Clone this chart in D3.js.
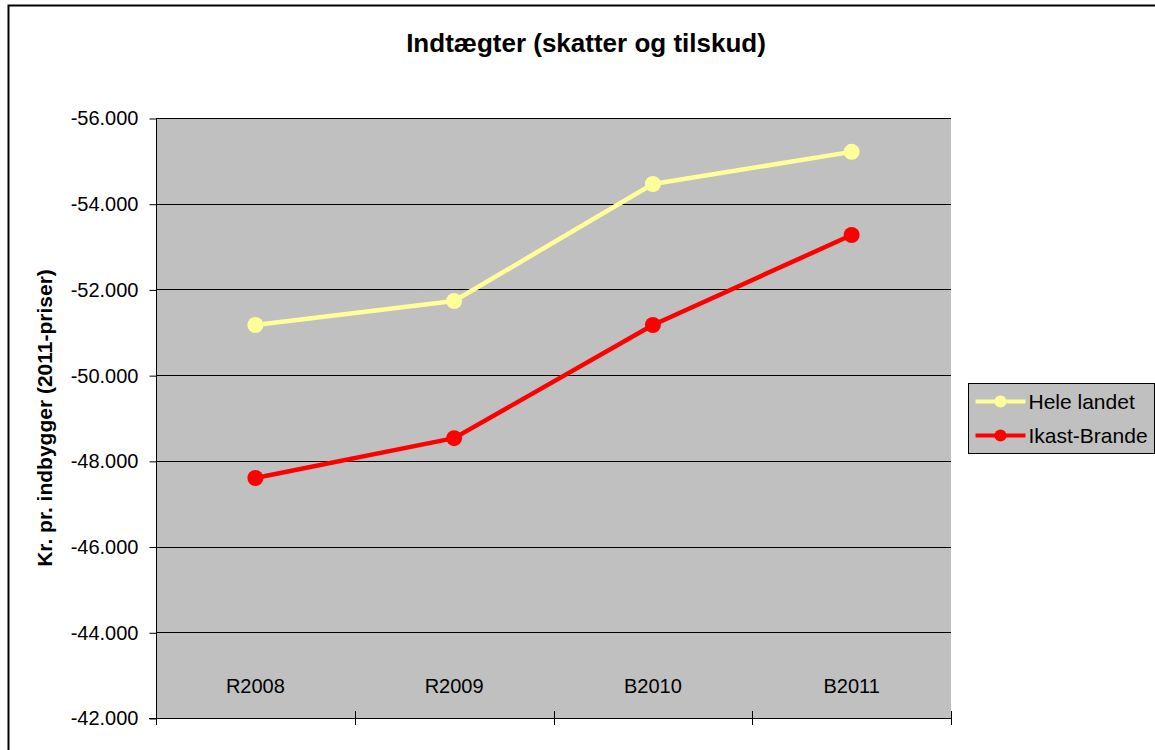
<!DOCTYPE html>
<meta charset="utf-8">
<style>
body { margin: 0; background: #fff; }
text { font-family: "Liberation Sans", Arial, sans-serif; fill: #000; }
</style>
<svg width="1155" height="750"></svg>
<script src="https://d3js.org/d3.v7.min.js"></script>
<script>
    var categories = ["R2008", "R2009", "B2010", "B2011"];
    var heleLandet = [-51170, -51730, -54460, -55210];
    var ikastBrande = [-47600, -48530, -51170, -53270];
    var yTicks = [-56000, -54000, -52000, -50000, -48000, -46000, -44000, -42000];
    var seriesNames = ["Hele landet", "Ikast-Brande"];
    var seriesColors = ["#ffff99", "#ff0000"];

    var series = [heleLandet, ikastBrande].map(function(values, i) {
        return {name: seriesNames[i], color: seriesColors[i], values: values};
    });

    var svg = d3.select("svg"),
        margin = {top: 118, left: 156, right: 204, bottom: 32};
    var plotW = 1155 - margin.left - margin.right,
        plotH = 750 - margin.top - margin.bottom;

    var locale = d3.formatLocale({decimal: ",", thousands: ".", grouping: [3], currency: ["", " kr"], minus: "-"});
    var fmt = locale.format(",");

    // chart frame
    svg.append("rect")
        .attr("x", 8.5).attr("y", 5.5)
        .attr("width", 1160).attr("height", 760)
        .attr("fill", "#fff").attr("stroke", "#000").attr("stroke-width", 2);

    var x = d3.scaleBand()
        .domain(categories)
        .range([margin.left, margin.left + plotW]);

    // reversed value axis: -56.000 on top
    var y = d3.scaleLinear()
        .domain([-42000, -56000])
        .range([margin.top + plotH, margin.top]);

    svg.append("rect")
        .attr("x", margin.left).attr("y", margin.top)
        .attr("width", plotW).attr("height", plotH)
        .attr("fill", "#c0c0c0");

    // gridlines
    svg.append("g")
        .selectAll("line")
        .data(yTicks.slice(0, -1))
        .enter().append("line")
        .attr("x1", margin.left).attr("x2", margin.left + plotW)
        .attr("y1", function(d) { return Math.round(y(d)) + 0.5; })
        .attr("y2", function(d) { return Math.round(y(d)) + 0.5; })
        .attr("stroke", "#000").attr("stroke-width", 1);

    // y axis
    var yAxis = svg.append("g")
        .attr("transform", "translate(" + (margin.left + 0.5) + ",0.5)")
        .call(d3.axisLeft(y).tickValues(yTicks).tickFormat(fmt).tickSize(7).tickPadding(11));
    yAxis.select(".domain").attr("stroke", "#000").attr("d", "M0," + margin.top + "V" + (margin.top + plotH));
    yAxis.selectAll("text").attr("font-size", 20).attr("font-family", "Liberation Sans, Arial, sans-serif").attr("fill", "#000");

    // x axis with ticks crossing the line at band edges
    var bottom = margin.top + plotH;
    svg.append("line")
        .attr("x1", margin.left - 7).attr("x2", margin.left + plotW)
        .attr("y1", bottom + 0.5).attr("y2", bottom + 0.5)
        .attr("stroke", "#000");
    var edges = categories.map(function(c) { return x(c); }).concat([x.range()[1]]);
    svg.append("g").selectAll("line")
        .data(edges)
        .enter().append("line")
        .attr("x1", function(d) { return Math.round(d) + 0.5; })
        .attr("x2", function(d) { return Math.round(d) + 0.5; })
        .attr("y1", bottom - 7).attr("y2", bottom + 7)
        .attr("stroke", "#000");

    // category labels sit inside the plot area, just above the axis
    svg.append("g").selectAll("text")
        .data(categories)
        .enter().append("text")
        .attr("x", function(d) { return x(d) + x.bandwidth() / 2; })
        .attr("y", 693)
        .attr("text-anchor", "middle")
        .attr("font-size", 20)
        .text(function(d) { return d; });

    // lines + markers
    var line = d3.line()
        .x(function(d, i) { return x(categories[i]) + x.bandwidth() / 2; })
        .y(function(d) { return y(d); });

    series.forEach(function(s) {
        svg.append("path")
            .datum(s.values)
            .attr("fill", "none")
            .attr("stroke", s.color)
            .attr("stroke-width", 4.5)
            .attr("stroke-linejoin", "round")
            .attr("d", line);
        svg.append("g").selectAll("circle")
            .data(s.values)
            .enter().append("circle")
            .attr("cx", function(d, i) { return x(categories[i]) + x.bandwidth() / 2; })
            .attr("cy", function(d) { return y(d); })
            .attr("r", 8)
            .attr("fill", s.color);
    });

    // title
    svg.append("text")
        .attr("x", 586).attr("y", 52)
        .attr("text-anchor", "middle")
        .attr("font-size", 26).attr("font-weight", "bold")
        .text("Indtægter (skatter og tilskud)");

    // y axis title
    svg.append("text")
        .attr("transform", "translate(52," + (margin.top + plotH / 2) + ") rotate(-90)")
        .attr("text-anchor", "middle")
        .attr("font-size", 21).attr("font-weight", "bold")
        .text("Kr. pr. indbygger (2011-priser)");

    // legend
    var legend = svg.append("g").attr("transform", "translate(968.5,383.5)");
    legend.append("rect")
        .attr("width", 186).attr("height", 70)
        .attr("fill", "#c0c0c0").attr("stroke", "#000");
    var item = legend.selectAll("g.item")
        .data(series)
        .enter().append("g")
        .attr("class", "item")
        .attr("transform", function(d, i) { return "translate(0," + (18 + i * 34) + ")"; });
    item.append("line")
        .attr("x1", 7).attr("x2", 57)
        .attr("stroke", function(d) { return d.color; })
        .attr("stroke-width", 4);
    item.append("circle")
        .attr("cx", 32).attr("r", 6)
        .attr("fill", function(d) { return d.color; });
    item.append("text")
        .attr("x", 60).attr("y", 7)
        .attr("font-size", 21)
        .text(function(d) { return d.name; });
</script>
